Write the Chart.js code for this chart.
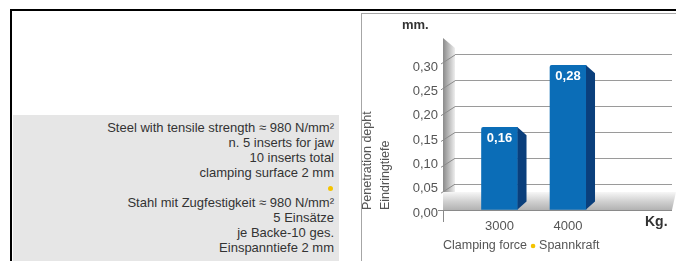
<!DOCTYPE html>
<html>
<head>
<meta charset="utf-8">
<script src="https://cdn.jsdelivr.net/npm/chart.js@4/dist/chart.umd.min.js"></script>
<style>
  html, body { margin: 0; padding: 0; background: #fff; }
  body { width: 676px; height: 261px; position: relative; overflow: hidden; font-family: 'Liberation Sans', Arial, sans-serif; }
  .blk { position: absolute; background: #000; }
  .gry { position: absolute; background: #a6a6a6; }
  #panel { position: absolute; left: 13px; top: 115px; width: 326px; height: 146px; background: #e6e6e6; }
  #notes { position: absolute; right: 342px; top: 120px; text-align: right; font-size: 13px; line-height: 15px; color: #333; white-space: nowrap; }
  #notes .dot { display: inline-block; width: 5px; height: 5px; border-radius: 50%; background: #f4c300; margin-right: 1px; vertical-align: 1px; }
  canvas { position: absolute; left: 0; top: 0; }
</style>
</head>
<body>
<div class="blk" style="left:10px;top:9px;width:666px;height:2px"></div>
<div class="blk" style="left:10px;top:9px;width:2px;height:252px"></div>
<div id="panel"></div>
<div id="notes">
  Steel with tensile strength ≈ 980 N/mm²<br>
  n. 5 inserts for jaw<br>
  10 inserts total<br>
  clamping surface 2 mm<br>
  <span class="dot"></span><br>
  Stahl mit Zugfestigkeit ≈ 980 N/mm²<br>
  5 Einsätze<br>
  je Backe-10 ges.<br>
  Einspanntiefe 2 mm
</div>
<div class="gry" style="left:361px;top:13px;width:1px;height:248px"></div>
<div class="gry" style="left:361px;top:13px;width:315px;height:1px"></div>
<canvas id="c" width="676" height="261"></canvas>
<script>
// ---- data ----
const categories = [3000, 4000];            // clamping force, Kg.
const penetration = [0.16, 0.28];           // penetration depth, mm.
const yTickValues = [0, 0.05, 0.10, 0.15, 0.20, 0.25, 0.30];
const yTitle = ['Penetration depht', 'Eindringtiefe'];
const xTitleParts = ['Clamping force', 'Spannkraft'];
const unitY = 'mm.';
const unitX = 'Kg.';

const FONT = "'Liberation Sans', Arial, sans-serif";
Chart.defaults.font.family = FONT;
const fmt = v => v.toFixed(2).replace('.', ',');

const deco = {
  id: 'deco',
  beforeDatasetsDraw(chart) {
    const { ctx, chartArea: a, scales: { y } } = chart;
    const fx = a.left - 12;
    ctx.save();
    // left wall
    let g = ctx.createLinearGradient(fx, 0, a.left, 0);
    g.addColorStop(0, '#8a8a8a');
    g.addColorStop(1, '#eeeeee');
    ctx.fillStyle = g;
    ctx.beginPath();
    ctx.moveTo(fx, a.top - 2);
    ctx.lineTo(a.left, a.top + 8);
    ctx.lineTo(a.left, a.bottom);
    ctx.lineTo(fx, a.bottom);
    ctx.closePath();
    ctx.fill();
    // floor
    g = ctx.createLinearGradient(0, a.bottom - 18, 0, a.bottom);
    g.addColorStop(0, '#f7f7f7');
    g.addColorStop(0.5, '#d2d2d2');
    g.addColorStop(1, '#b2b2b2');
    ctx.fillStyle = g;
    ctx.beginPath();
    ctx.moveTo(fx, a.bottom - 18);
    ctx.lineTo(a.right + 4, a.bottom - 18);
    ctx.lineTo(a.right, a.bottom);
    ctx.lineTo(fx, a.bottom);
    ctx.closePath();
    ctx.fill();
    // diagonal tick connectors
    ctx.strokeStyle = '#8a8a8a';
    ctx.lineWidth = 1;
    yTickValues.forEach(v => {
      if (v === 0) return;
      const yb = y.getPixelForValue(v);
      ctx.beginPath();
      ctx.moveTo(fx - 2, yb + 9);
      ctx.lineTo(a.left, yb);
      ctx.stroke();
    });
    // front axis corner
    ctx.strokeStyle = '#8a8a8a';
    ctx.beginPath();
    ctx.moveTo(fx - 5, a.bottom + 0.5);
    ctx.lineTo(a.right, a.bottom + 0.5);
    ctx.moveTo(fx + 0.5, a.bottom);
    ctx.lineTo(fx + 0.5, a.bottom + 12);
    ctx.stroke();
    ctx.restore();
  },
  afterDatasetsDraw(chart) {
    const { ctx, chartArea: a } = chart;
    const meta = chart.getDatasetMeta(0);
    ctx.save();
    meta.data.forEach((bar, i) => {
      const p = bar.getProps(['x', 'y', 'base', 'width'], true);
      const R = p.x + p.width / 2;
      ctx.fillStyle = '#0a3f7c';
      ctx.beginPath();
      ctx.moveTo(R, p.y);
      ctx.lineTo(R + 9, p.y + 8);
      ctx.lineTo(R + 9, p.base - 8);
      ctx.lineTo(R, p.base);
      ctx.closePath();
      ctx.fill();
      ctx.fillStyle = '#ffffff';
      ctx.font = 'bold 13px ' + FONT;
      ctx.textAlign = 'center';
      ctx.textBaseline = 'middle';
      ctx.fillText(fmt(penetration[i]), p.x, p.y + 11);
    });
    // unit labels
    ctx.fillStyle = '#333';
    ctx.textAlign = 'left';
    ctx.textBaseline = 'middle';
    ctx.font = 'bold 13px ' + FONT;
    ctx.fillText(unitY, 402, 25);
    ctx.font = 'bold 14px ' + FONT;
    ctx.fillText(unitX, 645, 222);
    // x-axis title with yellow bullet
    ctx.font = '12.5px ' + FONT;
    ctx.fillStyle = '#555';
    let x0 = a.left - 12;
    const yT = 246;
    ctx.fillText(xTitleParts[0], x0, yT);
    x0 += ctx.measureText(xTitleParts[0]).width + 6;
    ctx.fillStyle = '#f4c300';
    ctx.beginPath();
    ctx.arc(x0, yT, 2.3, 0, Math.PI * 2);
    ctx.fill();
    ctx.fillStyle = '#555';
    ctx.fillText(xTitleParts[1], x0 + 6, yT);
    ctx.restore();
  }
};

new Chart(document.getElementById('c'), {
  type: 'bar',
  data: {
    datasets: [{
      data: categories.map((c, i) => ({ x: c, y: penetration[i] })),
      backgroundColor: '#0b6db7',
      barThickness: 36,
      borderRadius: { topLeft: 2, topRight: 0, bottomLeft: 0, bottomRight: 0 },
      borderSkipped: false,
      yAxisID: 'y'
    }]
  },
  options: {
    responsive: false,
    animation: false,
    layout: { padding: { left: 358, top: 40, right: 4, bottom: 0 } },
    plugins: { legend: { display: false }, tooltip: { enabled: false } },
    scales: {
      x: {
        type: 'linear',
        offset: false,
        min: 2350,
        max: 5518,
        grid: { display: false, drawTicks: false, offset: false },
        border: { display: false },
        afterBuildTicks: s => { s.ticks = categories.map(v => ({ value: v })); },
        afterFit: s => { s.height = 51; },
        ticks: { padding: 9, color: '#555', font: { size: 13 }, callback: v => String(v) }
      },
      y: {
        position: 'left',
        weight: 0,
        min: 0,
        max: 0.329,
        afterBuildTicks: s => { s.ticks = yTickValues.map(v => ({ value: v })); },
        afterFit: s => { s.width = 0; },
        grid: { color: '#9a9a9a', lineWidth: 1, drawTicks: false },
        border: { display: false },
        ticks: { display: false }
      },
      yl: {
        position: 'left',
        weight: 1,
        min: 0,
        max: 0.3493,
        afterBuildTicks: s => { s.ticks = yTickValues.map(v => ({ value: v })); },
        afterFit: s => { s.width = 97; },
        grid: { display: false, drawTicks: false },
        border: { display: false },
        ticks: { padding: 17, labelOffset: 3, color: '#555', font: { size: 13 }, callback: v => fmt(v) },
        title: {
          display: true,
          text: yTitle,
          align: 'start',
          color: '#555',
          padding: 0,
          font: { size: 12.5, lineHeight: 1.45 }
        }
      }
    }
  },
  plugins: [deco]
});
</script>
</body>
</html>
